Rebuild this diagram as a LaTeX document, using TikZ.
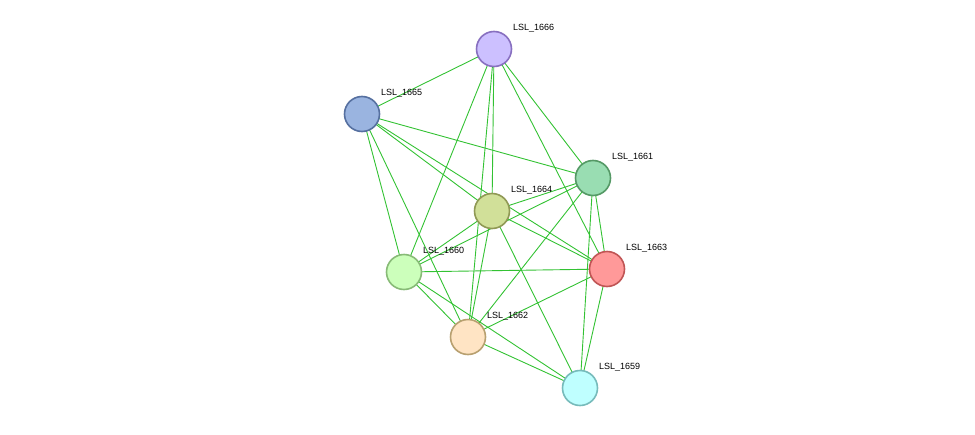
\documentclass[tikz,border=0pt]{standalone}
\usepackage{fontspec}
\setmainfont{Liberation Sans}
\usetikzlibrary{calc}
\definecolor{edgegreen}{HTML}{33C233}
\tikzset{
  prot/.style={circle, draw, line width=1.6pt, minimum size=35pt, inner sep=0pt},
  lbl/.style={anchor=west, inner sep=0pt, font=\fontsize{9}{10}\selectfont},
  link/.style={edgegreen, line width=0.9pt}
}
\begin{document}
\begin{tikzpicture}[x=1pt,y=-1pt]
		\useasboundingbox (0,0) rectangle (975,434);
		% links first, proteins on top
		\foreach \n/\x/\y/\f/\b in {1666/494/49/CCC0FF/8870C0, 1665/362/114/9AB4E0/5670A0,
		  1661/593/178/99DDB2/559966, 1664/492/211/D1E099/909955, 1663/607/269/FF9999/C05555,
		  1660/404/272/CCFFBB/88BB77, 1662/468/337/FFE4C4/B8A070, 1659/580/388/BFFFFF/77BBBB}
		  \coordinate (c\n) at (\x,\y);
		\foreach \a/\b in {1666/1665, 1666/1661, 1666/1663, 1666/1664, 1666/1660, 1666/1662,
		  1665/1661, 1665/1664, 1665/1663, 1665/1660, 1665/1662,
		  1661/1664, 1661/1663, 1661/1659, 1661/1662, 1661/1660,
		  1664/1663, 1664/1660, 1664/1662, 1664/1659,
		  1663/1660, 1663/1662, 1663/1659,
		  1660/1662, 1660/1659, 1662/1659}
		  \draw[link] (c\a) -- (c\b);
		\foreach \n/\x/\y/\f/\b in {1666/494/49/CCC0FF/8870C0, 1665/362/114/9AB4E0/5670A0,
		  1661/593/178/99DDB2/559966, 1664/492/211/D1E099/909955, 1663/607/269/FF9999/C05555,
		  1660/404/272/CCFFBB/88BB77, 1662/468/337/FFE4C4/B8A070, 1659/580/388/BFFFFF/77BBBB}
		{
		  \definecolor{fc}{HTML}{\f}\definecolor{bc}{HTML}{\b}
		  \node[prot, fill=fc, draw=bc] (p\n) at (c\n) {};
		  \node[lbl] (t\n) at ($(c\n)+(19,-21)$) {LSL\_\n};
		}
	\end{tikzpicture}
\end{document}
